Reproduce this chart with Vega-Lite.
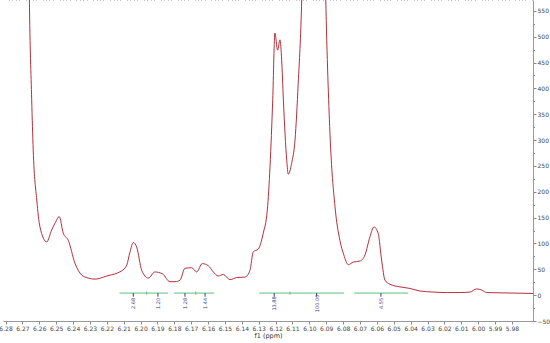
{
  "$schema": "https://vega.github.io/schema/vega-lite/v6.json",
  "autosize": {"type": "none"},
  "width": 530,
  "height": 321,
  "padding": {"left": 3, "top": 0, "right": 17, "bottom": 22},
  "background": "white",
  "config": {"view": {"stroke": null}, "font": "DejaVu Sans"},
  "resolve": {"axis": {"x": "independent", "y": "independent"}},
  "datasets": {
    "spectrum": [
      {"ppm": 6.2681, "intensity": 1100},
      {"ppm": 6.2667, "intensity": 800},
      {"ppm": 6.2659, "intensity": 575},
      {"ppm": 6.2645, "intensity": 378},
      {"ppm": 6.2636, "intensity": 281},
      {"ppm": 6.2615, "intensity": 184},
      {"ppm": 6.2596, "intensity": 132},
      {"ppm": 6.2556, "intensity": 103},
      {"ppm": 6.2527, "intensity": 126},
      {"ppm": 6.2504, "intensity": 141},
      {"ppm": 6.2482, "intensity": 152},
      {"ppm": 6.2458, "intensity": 120},
      {"ppm": 6.2428, "intensity": 106},
      {"ppm": 6.2389, "intensity": 62},
      {"ppm": 6.2349, "intensity": 39},
      {"ppm": 6.2310, "intensity": 33},
      {"ppm": 6.2270, "intensity": 31},
      {"ppm": 6.2201, "intensity": 37},
      {"ppm": 6.2112, "intensity": 47},
      {"ppm": 6.2082, "intensity": 58},
      {"ppm": 6.2063, "intensity": 83},
      {"ppm": 6.2043, "intensity": 102},
      {"ppm": 6.2023, "intensity": 93},
      {"ppm": 6.1993, "intensity": 48},
      {"ppm": 6.1954, "intensity": 33},
      {"ppm": 6.1915, "intensity": 45},
      {"ppm": 6.1894, "intensity": 44},
      {"ppm": 6.1869, "intensity": 41},
      {"ppm": 6.1826, "intensity": 26},
      {"ppm": 6.1796, "intensity": 26},
      {"ppm": 6.1766, "intensity": 29},
      {"ppm": 6.1737, "intensity": 52},
      {"ppm": 6.1697, "intensity": 53},
      {"ppm": 6.1668, "intensity": 45},
      {"ppm": 6.1634, "intensity": 61},
      {"ppm": 6.1599, "intensity": 57},
      {"ppm": 6.1569, "intensity": 45},
      {"ppm": 6.1540, "intensity": 37},
      {"ppm": 6.1510, "intensity": 40},
      {"ppm": 6.1470, "intensity": 30},
      {"ppm": 6.1431, "intensity": 34},
      {"ppm": 6.1381, "intensity": 35},
      {"ppm": 6.1352, "intensity": 48},
      {"ppm": 6.1332, "intensity": 84},
      {"ppm": 6.1303, "intensity": 89},
      {"ppm": 6.1273, "intensity": 120},
      {"ppm": 6.1249, "intensity": 165},
      {"ppm": 6.1233, "intensity": 249},
      {"ppm": 6.1217, "intensity": 378},
      {"ppm": 6.1204, "intensity": 507},
      {"ppm": 6.1188, "intensity": 474},
      {"ppm": 6.1174, "intensity": 494},
      {"ppm": 6.1164, "intensity": 455},
      {"ppm": 6.1154, "intensity": 378},
      {"ppm": 6.1134, "intensity": 261},
      {"ppm": 6.1125, "intensity": 234},
      {"ppm": 6.1105, "intensity": 255},
      {"ppm": 6.1085, "intensity": 300},
      {"ppm": 6.1066, "intensity": 410},
      {"ppm": 6.1045, "intensity": 575},
      {"ppm": 6.1026, "intensity": 900},
      {"ppm": 6.0996, "intensity": 2200},
      {"ppm": 6.0973, "intensity": 2600},
      {"ppm": 6.0949, "intensity": 2000},
      {"ppm": 6.0926, "intensity": 1000},
      {"ppm": 6.0903, "intensity": 575},
      {"ppm": 6.0878, "intensity": 314},
      {"ppm": 6.0848, "intensity": 171},
      {"ppm": 6.0819, "intensity": 106},
      {"ppm": 6.0796, "intensity": 78},
      {"ppm": 6.0769, "intensity": 59},
      {"ppm": 6.0740, "intensity": 64},
      {"ppm": 6.0700, "intensity": 66},
      {"ppm": 6.0670, "intensity": 78},
      {"ppm": 6.0641, "intensity": 113},
      {"ppm": 6.0617, "intensity": 132},
      {"ppm": 6.0592, "intensity": 119},
      {"ppm": 6.0572, "intensity": 68},
      {"ppm": 6.0552, "intensity": 29},
      {"ppm": 6.0522, "intensity": 21},
      {"ppm": 6.0463, "intensity": 16},
      {"ppm": 6.0404, "intensity": 13},
      {"ppm": 6.0345, "intensity": 8},
      {"ppm": 6.0266, "intensity": 6},
      {"ppm": 6.0186, "intensity": 5},
      {"ppm": 6.0108, "intensity": 5},
      {"ppm": 6.0048, "intensity": 6},
      {"ppm": 6.0009, "intensity": 12},
      {"ppm": 5.9979, "intensity": 10},
      {"ppm": 5.9950, "intensity": 5},
      {"ppm": 5.9871, "intensity": 4.5},
      {"ppm": 5.9675, "intensity": 3.3}
    ],
    "integrals": [
      {"from": 6.2125, "to": 6.1836},
      {"from": 6.1802, "to": 6.1563},
      {"from": 6.1297, "to": 6.0795},
      {"from": 6.0734, "to": 6.0414}
    ],
    "labels": [
      {"ppm": 6.2043, "label": "2.68"},
      {"ppm": 6.1897, "label": "1.20"},
      {"ppm": 6.1737, "label": "1.28"},
      {"ppm": 6.1618, "label": "1.44"},
      {"ppm": 6.1208, "label": "13.88"},
      {"ppm": 6.0957, "label": "100.00"},
      {"ppm": 6.0576, "label": "4.55"}
    ],
    "divisions": [
      {"ppm": 6.1964},
      {"ppm": 6.1673},
      {"ppm": 6.1115}
    ]
  },
  "layer": [
    {
      "data": {"name": "spectrum"},
      "mark": {"type": "line", "color": "#b5303a", "strokeWidth": 1, "interpolate": "monotone", "clip": true},
      "encoding": {
        "x": {
          "field": "ppm", "type": "quantitative",
          "scale": {"domain": [5.9675, 6.2815], "reverse": true, "nice": false, "zero": false},
          "axis": {
            "title": "f1 (ppm)",
            "titleFontSize": 6.5, "titleFontWeight": "normal", "titleColor": "#333", "titlePadding": 1,
            "values": [6.28,6.27,6.26,6.25,6.24,6.23,6.22,6.21,6.2,6.19,6.18,6.17,6.16,6.15,6.14,6.13,6.12,6.11,6.1,6.09,6.08,6.07,6.06,6.05,6.04,6.03,6.02,6.01,6.0,5.99,5.98],
            "format": ".2f",
            "labelOverlap": false,
            "labelFontSize": 6, "labelColor": "#444", "labelPadding": 1,
            "tickSize": 3, "tickColor": "#888", "domainColor": "#999", "grid": false
          }
        },
        "y": {
          "field": "intensity", "type": "quantitative",
          "scale": {"domain": [-50, 571], "nice": false, "zero": false},
          "axis": {
            "orient": "right", "title": null,
            "values": [-50,0,50,100,150,200,250,300,350,400,450,500,550],
            "format": "d",
            "labelOverlap": false,
            "labelFontSize": 6, "labelColor": "#444", "labelPadding": 1,
            "tickSize": 3, "tickColor": "#888", "domainColor": "#999", "grid": false
          }
        }
      }
    },
    {
      "data": {"name": "integrals"},
      "mark": {"type": "rule", "color": "#5fbf7f", "strokeWidth": 1},
      "encoding": {
        "x": {
          "field": "from", "type": "quantitative",
          "axis": {
            "title": null, "labels": false, "domain": false, "grid": false,
            "values": [6.278,6.276,6.274,6.272,6.268,6.266,6.264,6.262,6.258,6.256,6.254,6.252,6.248,6.246,6.244,6.242,6.238,6.236,6.234,6.232,6.228,6.226,6.224,6.222,6.218,6.216,6.214,6.212,6.208,6.206,6.204,6.202,6.198,6.196,6.194,6.192,6.188,6.186,6.184,6.182,6.178,6.176,6.174,6.172,6.168,6.166,6.164,6.162,6.158,6.156,6.154,6.152,6.148,6.146,6.144,6.142,6.138,6.136,6.134,6.132,6.128,6.126,6.124,6.122,6.118,6.116,6.114,6.112,6.108,6.106,6.104,6.102,6.098,6.096,6.094,6.092,6.088,6.086,6.084,6.082,6.078,6.076,6.074,6.072,6.068,6.066,6.064,6.062,6.058,6.056,6.054,6.052,6.048,6.046,6.044,6.042,6.038,6.036,6.034,6.032,6.028,6.026,6.024,6.022,6.018,6.016,6.014,6.012,6.008,6.006,6.004,6.002,5.998,5.996,5.994,5.992,5.988,5.986,5.984,5.982,5.978,5.976,5.974,5.972,5.968],
            "tickSize": 1.5, "tickColor": "#888"
          }
        },
        "x2": {"field": "to"},
        "y": {
          "datum": 4,
          "axis": {
            "orient": "right", "title": null, "labels": false, "domain": false, "grid": false,
            "values": [-25,25,75,125,175,225,275,325,375,425,475,525],
            "tickSize": 1.5, "tickColor": "#888"
          }
        }
      }
    },
    {
      "data": {"name": "divisions"},
      "mark": {"type": "rule", "color": "#5fbf7f", "strokeWidth": 1},
      "encoding": {
        "x": {"field": "ppm", "type": "quantitative", "axis": null},
        "y": {"datum": 7, "axis": null},
        "y2": {"datum": 1}
      }
    },
    {
      "data": {"name": "labels"},
      "mark": {"type": "rule", "color": "#3a3a8a", "strokeWidth": 1},
      "encoding": {
        "x": {"field": "ppm", "type": "quantitative", "axis": null},
        "y": {"datum": 4, "axis": null},
        "y2": {"datum": -3}
      }
    },
    {
      "data": {"name": "labels"},
      "mark": {"type": "text", "color": "#3a3a8a", "fontSize": 5, "angle": 270, "align": "center", "baseline": "middle"},
      "encoding": {
        "x": {"field": "ppm", "type": "quantitative", "axis": null},
        "y": {"datum": -16, "axis": null},
        "text": {"field": "label"}
      }
    }
  ]
}
